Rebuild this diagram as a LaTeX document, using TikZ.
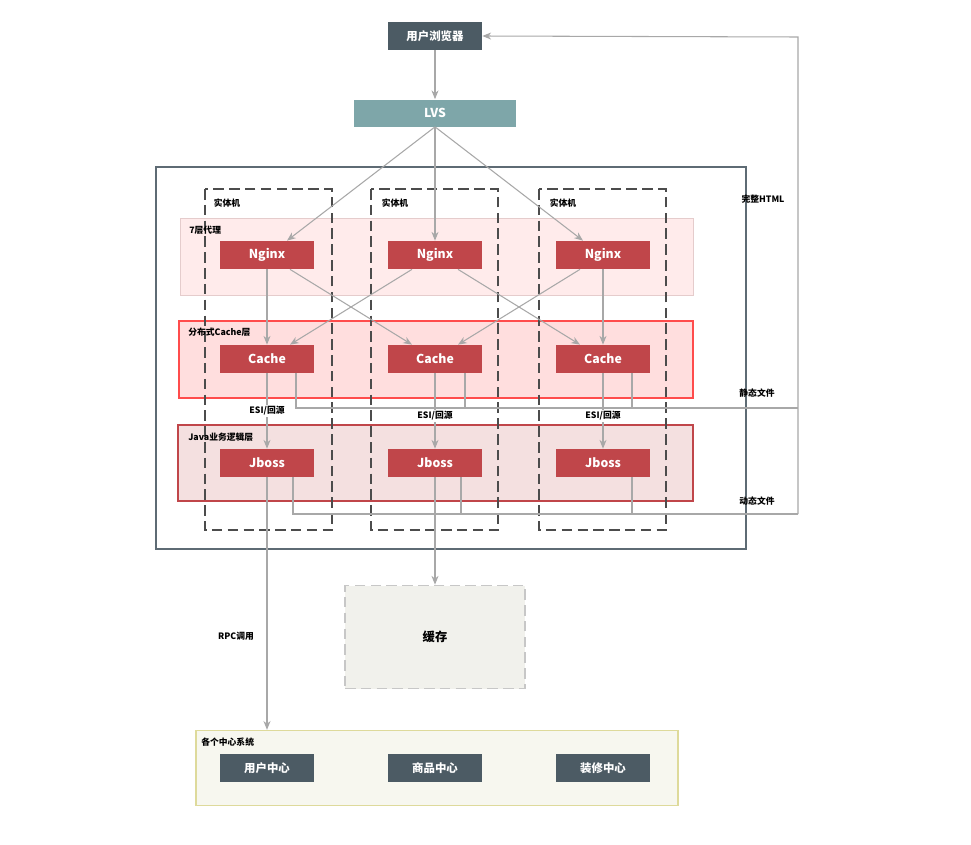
\documentclass[tikz,border=0pt]{standalone}
\usepackage{fontspec}
\setmainfont{Noto Sans CJK SC}
\usetikzlibrary{arrows.meta}
\definecolor{slate}{HTML}{4C5B64}
\definecolor{teal}{HTML}{7EA6A9}
\definecolor{redbox}{HTML}{C0464A}
\definecolor{wire}{HTML}{A8A8A8}
\definecolor{storefill}{HTML}{F1F1EC}
\definecolor{centerfill}{HTML}{F7F7EF}
\tikzset{
	srv/.style={rectangle,fill=redbox,text=white,minimum width=94*0.02cm,minimum height=28*0.02cm,inner sep=0,font=\fontsize{7}{8}\selectfont\bfseries},
	dark/.style={rectangle,fill=slate,text=white,minimum width=94*0.02cm,minimum height=28*0.02cm,inner sep=0,font=\fontsize{6.5}{8}\selectfont\bfseries},
	lbl/.style={font=\fontsize{5}{6}\selectfont\bfseries,inner sep=0},
	wire/.style={draw=wire,line width=0.6pt},
	arr/.style={wire,-{Stealth[length=5pt,width=4pt]}}
}
\begin{document}
\begin{tikzpicture}[x=0.02cm,y=-0.02cm]
	\useasboundingbox[fill=white] (0,0) rectangle (971,845);

	% frames
	\draw[draw=slate!90,line width=1pt] (156,167) rectangle (746,549);
	\draw[draw=black!50!red!20,fill=red!8] (180,218) rectangle (693,295);
	\draw[draw=red!70!white,line width=0.8pt,fill=red!13] (179,321) rectangle (693,398);
	\draw[draw=redbox,line width=0.8pt,fill=redbox!17] (178,425) rectangle (693,501);
	\foreach \x in {205,371,539}
		\draw[draw=black!70,dashed,dash pattern=on 6pt off 3pt,line width=0.8pt] (\x,189) rectangle (\x+127,530);
	\node[lbl] (pm1) at (227,203) {实体机};
	\node[lbl] (pm2) at (395,203) {实体机};
	\node[lbl] (pm3) at (563,203) {实体机};
	\node[lbl,anchor=west] (l7) at (189,230) {7层代理};
	\node[lbl,anchor=west] (lc) at (188,332) {分布式Cache层};
	\node[lbl,anchor=west] (lj) at (188,437) {Java业务逻辑层};

	% top
	\node[dark] (browser) at (435,36) {用户浏览器};
	\node[rectangle,fill=teal,text=white,minimum width=162*0.02cm,minimum height=27*0.02cm,font=\fontsize{7}{8}\selectfont\bfseries] (lvs) at (435,113) {LVS};
	\draw[arr] (browser) -- (lvs);

	% servers
	\node[srv] (N1) at (267,255) {Nginx};
	\node[srv] (N2) at (435,255) {Nginx};
	\node[srv] (N3) at (603,255) {Nginx};
	\node[srv] (C1) at (267,359) {Cache};
	\node[srv] (C2) at (435,359) {Cache};
	\node[srv] (C3) at (603,359) {Cache};
	\node[srv] (J1) at (267,463) {Jboss};
	\node[srv] (J2) at (435,463) {Jboss};
	\node[srv] (J3) at (603,463) {Jboss};

	\draw[arr] (lvs.south) -- ([xshift=20*0.02cm]N1.north);
	\draw[arr] (lvs.south) -- (N2.north);
	\draw[arr] (lvs.south) -- ([xshift=-20*0.02cm]N3.north);

	\draw[arr] (N1.south) -- (C1.north);
	\draw[arr] ([xshift=23*0.02cm]N1.south) -- ([xshift=-23*0.02cm]C2.north);
	\draw[arr] ([xshift=-23*0.02cm]N2.south) -- ([xshift=23*0.02cm]C1.north);
	\draw[arr] ([xshift=23*0.02cm]N2.south) -- ([xshift=-23*0.02cm]C3.north);
	\draw[arr] ([xshift=-23*0.02cm]N3.south) -- ([xshift=23*0.02cm]C2.north);
	\draw[arr] (N3.south) -- (C3.north);

	\draw[arr] (C1) -- (J1);
	\draw[arr] (C2) -- (J2);
	\draw[arr] (C3) -- (J3);
	\node[lbl,fill=white,inner sep=1pt] (esi1) at (267,411) {ESI/回源};
	\node[lbl,fill=white,inner sep=1pt] (esi2) at (435,416) {ESI/回源};
	\node[lbl,fill=white,inner sep=1pt] (esi3) at (603,416) {ESI/回源};

	% return paths
	\coordinate (ret) at (798,408);
	\coordinate (retd) at (798,514);
	\draw[wire] ([xshift=29*0.02cm]C1.south) |- (ret);
	\draw[wire] ([xshift=30*0.02cm]C2.south) -- ++(0,35);
	\draw[wire] ([xshift=29*0.02cm]C3.south) -- ++(0,35);
	\draw[wire] ([xshift=26*0.02cm]J1.south) |- (retd);
	\draw[wire] ([xshift=26*0.02cm]J2.south) -- ++(0,37);
	\draw[wire] ([xshift=29*0.02cm]J3.south) -- ++(0,37);
	\draw[arr] (retd) -- (798,37) -- (browser.east);
	\node[lbl] (html) at (763,199) {完整HTML};
	\node[lbl] (static) at (757,393) {静态文件};
	\node[lbl] (dyn) at (757,501) {动态文件};

	% bottom
	\node[rectangle,draw=black!22,fill=storefill,dashed,dash pattern=on 6pt off 3pt,line width=1pt,minimum width=180*0.02cm,minimum height=103*0.02cm,font=\fontsize{7}{8}\selectfont\bfseries] (store) at (435,637) {缓存};
	\draw[arr] (J2) -- (store);
	\node[rectangle,draw=olive!30,fill=centerfill,line width=0.8pt,minimum width=482*0.02cm,minimum height=75*0.02cm] (centers) at (437,768) {};
	\node[lbl,anchor=west] (lcenters) at (201,742) {各个中心系统};
	\node[dark] (uc) at (267,768) {用户中心};
	\node[dark] (gc) at (435,768) {商品中心};
	\node[dark] (dc) at (603,768) {装修中心};
	\draw[arr] (J1) -- (J1 |- centers.north);
	\node[lbl,fill=white,inner sep=1pt] (rpc) at (236,636) {RPC调用};
\end{tikzpicture}
\end{document}
